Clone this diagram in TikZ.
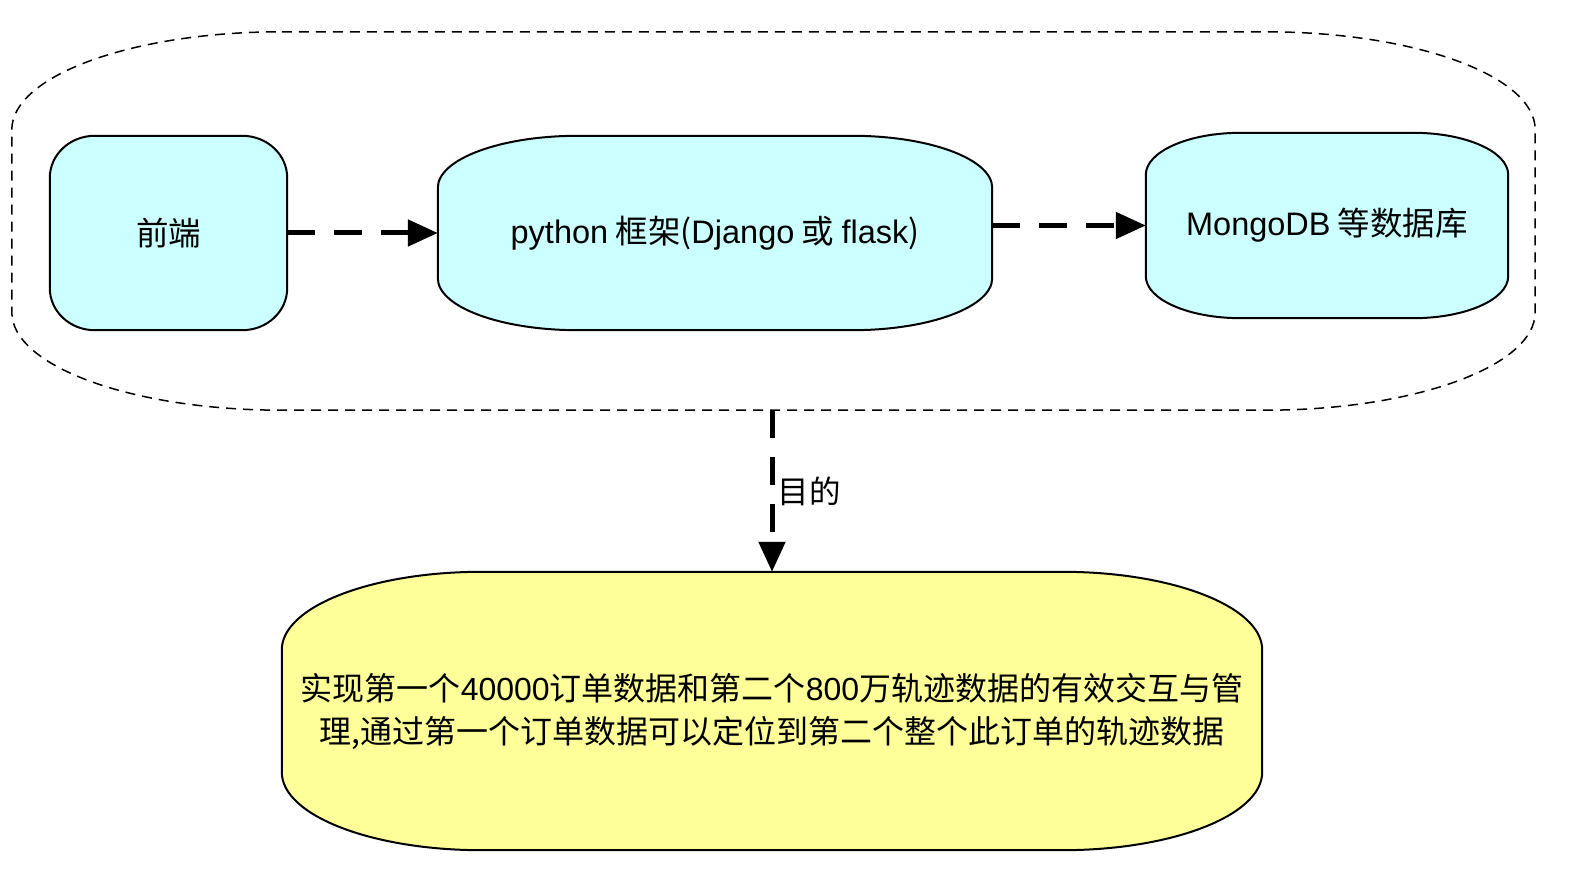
\documentclass[tikz,border=0pt]{standalone}
\usepackage{fontspec}
\setmainfont{Noto Sans CJK SC}
\newfontfamily\latin{Liberation Sans}
\usetikzlibrary{arrows.meta,backgrounds}

\definecolor{boxcyan}{HTML}{CCFFFF}
\definecolor{boxyellow}{HTML}{FFFF99}

% soft box with elliptical corners: node, x radius, y radius, fill, line
\newcommand{\softbox}[5]{%
  \draw[#5, fill=#4] ([xshift=#2]#1.north west) -- ([xshift=-#2]#1.north east)
    arc[start angle=90, end angle=0, x radius=#2, y radius=#3]
    -- ([yshift=#3]#1.south east)
    arc[start angle=0, end angle=-90, x radius=#2, y radius=#3]
    -- ([xshift=#2]#1.south west)
    arc[start angle=270, end angle=180, x radius=#2, y radius=#3]
    -- ([yshift=-#3]#1.north west)
    arc[start angle=180, end angle=90, x radius=#2, y radius=#3] -- cycle;}

\tikzset{
  block/.style={inner sep=0pt, font=\fontsize{32.5}{38}\selectfont},
  flow/.style={line width=5pt, dash pattern=on 28pt off 19pt,
    -{Triangle[length=30pt,width=26pt]}},
}

\begin{document}
\begin{tikzpicture}[x=1pt,y=1pt]
\useasboundingbox (0,0) rectangle (1584,884);
\begin{scope}[every node/.style={block}]
\node[minimum width=237pt, minimum height=194pt] (fe) at (168.5,651) {前端};
\node[minimum width=554pt, minimum height=194pt] (py) at (715,651)
  {{\latin python} 框架({\latin Django} 或 {\latin flask})};
\node[minimum width=362pt, minimum height=185pt] (db) at (1327,658.5) {{\latin MongoDB} 等数据库};
\node[minimum width=1523pt, minimum height=378pt] (stack) at (773.5,663) {};
\node[minimum width=980pt, minimum height=278pt, align=center,
  font=\fontsize{32}{43}\selectfont] (goal) at (772,173)
  {实现第一个{\latin 40000}订单数据和第二个{\latin 800}万轨迹数据的有效交互与管\\理,通过第一个订单数据可以定位到第二个整个此订单的轨迹数据};
\end{scope}

\begin{scope}[on background layer]
\softbox{stack}{270pt}{98pt}{white}{line width=1.5pt, dash pattern=on 10pt off 7pt}
\softbox{fe}{45pt}{42pt}{boxcyan}{line width=2pt}
\softbox{py}{140pt}{52pt}{boxcyan}{line width=2pt}
\softbox{db}{95pt}{42pt}{boxcyan}{line width=2pt}
\softbox{goal}{200pt}{78pt}{boxyellow}{line width=2pt}
\end{scope}

\draw[flow] (fe.east) -- (py.west);
\draw[flow] (py.east |- db.west) -- (db.west);
\draw[flow] (goal.north |- stack.south) -- node[right, inner sep=3pt,
  font=\fontsize{31.5}{36}\selectfont] (aim) {目的} (goal.north);
\end{tikzpicture}
\end{document}
